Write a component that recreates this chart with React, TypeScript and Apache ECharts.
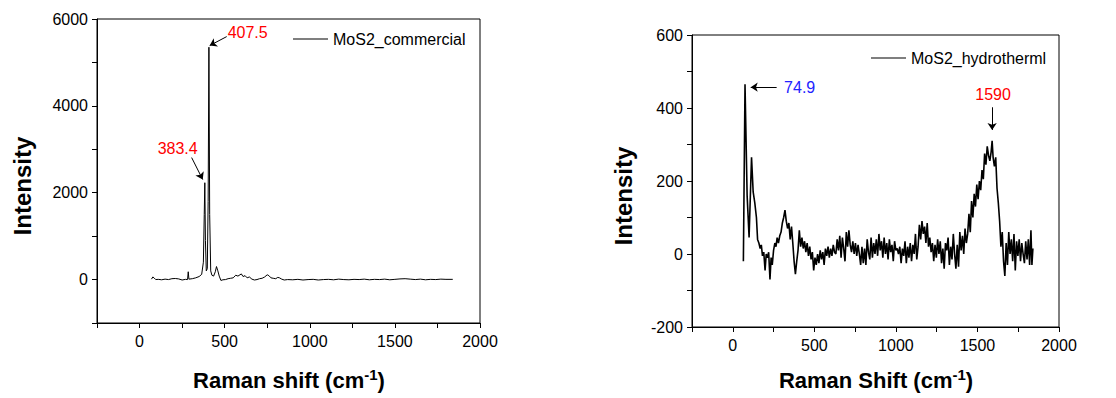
import React, { useEffect, useRef } from "react";
import * as echarts from "echarts";

const FONT = "'Liberation Sans', Arial, sans-serif";

const commercialName = "MoS2_commercial";
const hydroName = "MoS2_hydrotherml";

// Raman spectrum, commercial MoS2: [shift cm-1, intensity]
const commercialData: [number, number][] = [
  [70, 10], [78, 60], [85, 40], [95, 0], [110, 5], [130, -5], [150, 10], [170, 0],
  [190, 20], [210, 25], [230, 15], [250, -10], [270, 5], [282, 0], [286, 180], [290, 10],
  [310, 20], [330, 40], [350, 70], [365, 120], [375, 400], [380, 1500], [383.4, 2230],
  [387, 900], [392, 200], [398, 250], [403, 1800], [407.5, 5350], [412, 1500], [418, 200],
  [425, 100], [435, 80], [445, 180], [452, 300], [460, 200], [468, 80], [478, -20],
  [490, -5], [505, 0], [520, 20], [535, 30], [550, 40], [565, 100], [578, 80], [590, 110],
  [598, 130], [608, 70], [620, 90], [632, 40], [645, 60], [660, 10], [675, -10], [690, 0],
  [705, 20], [720, 30], [735, 60], [750, 110], [760, 90], [772, 40], [785, 30], [800, 20],
  [812, 50], [822, 40], [835, 10], [850, -10], [870, 0], [900, -5], [930, 5], [960, -10],
  [990, 0], [1020, 5], [1050, -10], [1080, 0], [1110, 5], [1140, -5], [1170, 10], [1200, 0],
  [1230, -5], [1260, 5], [1290, 0], [1320, 10], [1350, -5], [1380, 5], [1410, 0], [1440, 10],
  [1470, -5], [1500, 5], [1530, 15], [1560, 20], [1590, 10], [1620, 0], [1650, 10],
  [1680, -5], [1710, 5], [1740, 0], [1770, 10], [1800, 5], [1840, 5],
];

// Raman spectrum, hydrothermal MoS2: [shift cm-1, intensity]
const hydroData: [number, number][] = [
  [65, -20], [75, 465], [88, 160], [100, 45], [115, 265], [125, 170], [135, 140], [145, 100],
  [152, 40], [160, 30], [168, 15], [175, 25], [182, -5], [190, 5], [198, -45], [205, 0],
  [212, -10], [220, 5], [228, -70], [235, -10], [242, -30], [250, 10], [258, 30], [265, 20],
  [272, 45], [280, 30], [288, 50], [296, 60], [304, 85], [312, 100], [320, 120], [328, 90],
  [336, 70], [344, 85], [352, 40], [360, 75], [368, 30], [376, -20], [384, -55], [392, -20],
  [400, 10], [408, 65], [416, 20], [424, 45], [432, 15], [440, 35], [448, 5], [456, 30],
  [464, -5], [472, 20], [480, -15], [488, 5], [496, -45], [504, -10], [512, -30], [520, 0],
  [528, -25], [536, 10], [544, -15], [552, 5], [560, -30], [568, 15], [576, -5], [584, 20],
  [592, -10], [600, 15], [608, -5], [616, 25], [624, 5], [632, 0], [640, 40], [648, 10],
  [656, 50], [664, -10], [672, 45], [680, 15], [688, -20], [696, 60], [704, 20], [712, 65],
  [720, 25], [728, 5], [736, 35], [744, 0], [752, 30], [760, -5], [768, 25], [776, 0],
  [784, -30], [792, 20], [800, -25], [808, 15], [816, -30], [824, 40], [832, 5], [840, -15],
  [848, 45], [856, -10], [864, 30], [872, 0], [880, 40], [888, -5], [896, 55], [904, 10],
  [912, 35], [920, -10], [928, 45], [936, 0], [944, 30], [952, -15], [960, 40], [968, 5],
  [976, 25], [984, -20], [992, 35], [1000, 10], [1008, 15], [1016, 0], [1024, 20],
  [1032, -25], [1040, 15], [1048, -5], [1056, 35], [1064, -25], [1072, 20], [1080, -10],
  [1088, 30], [1096, -20], [1104, 25], [1112, 0], [1120, 55], [1128, -15], [1136, 20],
  [1144, 80], [1152, 40], [1160, 90], [1168, 55], [1176, 75], [1184, 30], [1192, 85],
  [1200, 20], [1208, 45], [1216, 5], [1224, 30], [1232, -20], [1240, 25], [1248, -10],
  [1256, 40], [1264, 0], [1272, 35], [1280, -25], [1288, 15], [1296, -40], [1304, 30],
  [1312, 10], [1320, 45], [1328, -30], [1336, 20], [1344, -15], [1352, 55], [1360, 0],
  [1368, -40], [1376, 25], [1384, -35], [1392, 60], [1400, 10], [1408, 50], [1416, 0],
  [1424, 70], [1432, 30], [1440, 55], [1448, 110], [1456, 60], [1464, 145], [1472, 100],
  [1480, 165], [1488, 130], [1496, 190], [1504, 150], [1512, 200], [1520, 175], [1528, 230],
  [1536, 205], [1544, 275], [1552, 245], [1560, 295], [1568, 270], [1576, 255], [1584, 280],
  [1590, 310], [1596, 265], [1604, 240], [1612, 265], [1620, 180], [1628, 140], [1636, 90],
  [1644, 20], [1652, 60], [1660, -20], [1668, -60], [1676, 30], [1684, -30], [1692, 60],
  [1700, 0], [1708, 40], [1716, -20], [1724, 55], [1732, -45], [1740, 35], [1748, -5],
  [1756, 40], [1764, -20], [1772, 30], [1780, 0], [1788, -25], [1796, 35], [1804, -15],
  [1812, 40], [1820, -30], [1828, 65], [1834, -30], [1840, 15],
];

// Axis ranges / ticks
const xRange = [-250, 2000];
const xTickStep = 250;
const xLabelStep = 500;
const yLeftRange = [-1000, 6000];
const yLeftTickStep = 1000;
const yLeftLabelStep = 2000;
const yRightRange = [-200, 600];
const yRightTickStep = 100;
const yRightLabelStep = 200;

// Peak annotations: label text, label position, arrow start, arrow end (data coords)
const commercialPeaks = [
  { text: "407.5", color: "#ff0000", label: [635, 5690], from: [512, 5595], to: [412, 5388] },
  { text: "383.4", color: "#ff0000", label: [224, 3016], from: [306, 2809], to: [371, 2303] },
];
const hydroPeaks = [
  { text: "74.9", color: "#2222ff", label: [410, 457], from: [269, 457], to: [110, 457] },
  { text: "1590", color: "#ff0000", label: [1596, 438], from: [1590, 402], to: [1590, 340] },
];

const xAxisCfg = (gridIndex: number) => ({
  type: "value",
  gridIndex,
  min: xRange[0],
  max: xRange[1],
  interval: xTickStep,
  axisLine: { onZero: false, lineStyle: { color: "#000", width: 1 } },
  axisTick: { show: true, inside: false, length: 5, lineStyle: { color: "#000" } },
  axisLabel: {
    margin: 10,
    fontSize: 16,
    color: "#000",
    fontFamily: FONT,
    formatter: (v: number) => (v >= 0 && v % xLabelStep === 0 ? String(v) : ""),
  },
  splitLine: { show: false },
});

const yAxisCfg = (gridIndex: number, range: number[], step: number, labelStep: number) => ({
  type: "value",
  gridIndex,
  min: range[0],
  max: range[1],
  interval: step,
  axisLine: { show: true, onZero: false, lineStyle: { color: "#000", width: 1 } },
  axisTick: { show: true, inside: false, length: 5, lineStyle: { color: "#000" } },
  axisLabel: {
    margin: 9,
    fontSize: 16,
    color: "#000",
    fontFamily: FONT,
    formatter: (v: number) => (Math.abs(v % labelStep) === 0 ? String(v) : ""),
  },
  splitLine: { show: false },
});

const annotations = (peaks: typeof commercialPeaks) => ({
  markLine: {
    silent: true,
    symbol: ["none", "arrow"],
    symbolSize: 7,
    animation: false,
    label: { show: false },
    lineStyle: { color: "#000", width: 1, type: "solid" },
    data: peaks.map((p) => [{ coord: p.from }, { coord: p.to }]),
  },
  markPoint: {
    silent: true,
    symbol: "circle",
    symbolSize: 0,
    animation: false,
    data: peaks.map((p) => ({
      coord: p.label,
      label: {
        show: true,
        position: "inside",
        formatter: p.text,
        color: p.color,
        fontSize: 16,
        fontFamily: FONT,
      },
    })),
  },
});

const legendCfg = (name: string, left: number, top: number) => ({
  data: [{ name, icon: "rect" }],
  left,
  top,
  padding: 0,
  itemWidth: 35,
  itemHeight: 1.2,
  itemGap: 5,
  itemStyle: { color: "#000", borderWidth: 0 },
  textStyle: { fontSize: 16, color: "#000", fontFamily: FONT },
});

export default function App() {
  const ref = useRef<HTMLDivElement>(null);

  useEffect(() => {
    if (!ref.current) return;
    const chart = echarts.init(ref.current, undefined, { renderer: "svg" });
    const titleRich = {
      a: { fontSize: 22, fontWeight: "bold", fontFamily: FONT, color: "#000" },
      s: { fontSize: 15, fontWeight: "bold", fontFamily: FONT, color: "#000", padding: [0, 0, 12, 0] },
    };
    chart.setOption({
      animation: false,
      backgroundColor: "#fff",
      textStyle: { fontFamily: FONT },
      grid: [
        { left: 97, top: 19, width: 383, height: 304, show: true, borderColor: "#000", borderWidth: 1, backgroundColor: "transparent" },
        { left: 692, top: 35, width: 367, height: 292, show: true, borderColor: "#000", borderWidth: 1, backgroundColor: "transparent" },
      ],
      xAxis: [xAxisCfg(0), xAxisCfg(1)],
      yAxis: [
        yAxisCfg(0, yLeftRange, yLeftTickStep, yLeftLabelStep),
        yAxisCfg(1, yRightRange, yRightTickStep, yRightLabelStep),
      ],
      legend: [legendCfg(commercialName, 293, 31), legendCfg(hydroName, 871, 50)],
      series: [
        {
          name: commercialName,
          type: "line",
          xAxisIndex: 0,
          yAxisIndex: 0,
          symbol: "none",
          data: commercialData,
          lineStyle: { color: "#000", width: 1 },
          itemStyle: { color: "#000" },
          ...annotations(commercialPeaks),
        },
        {
          name: hydroName,
          type: "line",
          xAxisIndex: 1,
          yAxisIndex: 1,
          symbol: "none",
          data: hydroData,
          lineStyle: { color: "#000", width: 1.6 },
          itemStyle: { color: "#000" },
          ...annotations(hydroPeaks),
        },
      ],
      graphic: [
        {
          type: "text",
          x: 22,
          y: 186,
          rotation: Math.PI / 2,
          style: { text: "Intensity", fontSize: 24, fontWeight: "bold", fontFamily: FONT, fill: "#000", textAlign: "center", textVerticalAlign: "middle" },
        },
        {
          type: "text",
          x: 623,
          y: 196,
          rotation: Math.PI / 2,
          style: { text: "Intensity", fontSize: 24, fontWeight: "bold", fontFamily: FONT, fill: "#000", textAlign: "center", textVerticalAlign: "middle" },
        },
        {
          type: "text",
          x: 289,
          y: 380,
          style: { text: "{a|Raman shift (cm}{s|-1}{a|)}", rich: titleRich, textAlign: "center", textVerticalAlign: "middle" },
        },
        {
          type: "text",
          x: 876,
          y: 380,
          style: { text: "{a|Raman Shift (cm}{s|-1}{a|)}", rich: titleRich, textAlign: "center", textVerticalAlign: "middle" },
        },
      ],
    });
    return () => chart.dispose();
  }, []);

  return (
    <div
      ref={ref}
      style={{ position: "fixed", left: 0, top: 0, width: 1116, height: 398, background: "#fff" }}
    />
  );
}
